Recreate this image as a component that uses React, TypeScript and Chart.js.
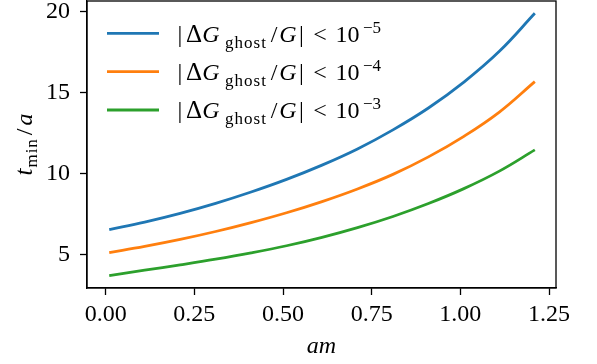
import { useEffect, useRef } from 'react';
import { Chart, registerables } from 'chart.js';

Chart.register(...registerables);

// Lattice spacing am and the minimum time t_min/a needed for each ghost tolerance
const amValues = [0.01, 0.11, 0.21, 0.31, 0.41, 0.51, 0.61, 0.71, 0.81, 0.91, 1.01, 1.11, 1.21];
const tMinTol5 = [6.53, 7.0, 7.54, 8.16, 8.86, 9.64, 10.52, 11.52, 12.7, 14.05, 15.65, 17.55, 19.9];
const tMinTol4 = [5.12, 5.5, 5.93, 6.42, 6.97, 7.58, 8.27, 9.05, 9.95, 11.03, 12.3, 13.8, 15.68];
const tMinTol3 = [3.7, 4.03, 4.36, 4.71, 5.1, 5.54, 6.06, 6.66, 7.35, 8.15, 9.07, 10.15, 11.46];
const toleranceExponents = ['\u22125', '\u22124', '\u22123'];
const seriesColors = ['#1f77b4', '#ff7f0e', '#2ca02c'];
const xTickValues = [0, 0.25, 0.5, 0.75, 1.0, 1.25];
const yTickValues = [5, 10, 15, 20];

const SERIF = '"Liberation Serif", "Times New Roman", serif';
const BASE = 24;

type Piece = {
  text: string;
  italic?: boolean;
  size?: number;
  dy?: number;
  cx?: number;
  gap?: number;
  spacing?: number;
};

const fontOf = (p: Piece) => `${p.italic ? 'italic ' : ''}${p.size ?? BASE}px ${SERIF}`;

// Pieces placed by their horizontal centre, relative to x0
function drawCentered(ctx: CanvasRenderingContext2D, x0: number, y: number, pieces: Piece[]) {
  ctx.textAlign = 'center';
  ctx.textBaseline = 'alphabetic';
  for (const p of pieces) {
    ctx.font = fontOf(p);
    (ctx as any).letterSpacing = `${p.spacing ?? 0}px`;
    ctx.fillText(p.text, x0 + (p.cx ?? 0), y + (p.dy ?? 0));
  }
  (ctx as any).letterSpacing = '0px';
}

// Pieces laid out one after another, centred as a whole on x = 0
function drawSequence(ctx: CanvasRenderingContext2D, pieces: Piece[]) {
  ctx.textAlign = 'left';
  ctx.textBaseline = 'alphabetic';
  const widths = pieces.map((p) => {
    ctx.font = fontOf(p);
    (ctx as any).letterSpacing = `${p.spacing ?? 0}px`;
    return ctx.measureText(p.text).width;
  });
  const total = pieces.reduce((s, p, i) => s + widths[i] + (p.gap ?? 0), 0);
  let x = -total / 2;
  pieces.forEach((p, i) => {
    x += p.gap ?? 0;
    ctx.font = fontOf(p);
    (ctx as any).letterSpacing = `${p.spacing ?? 0}px`;
    ctx.fillText(p.text, x, p.dy ?? 0);
    x += widths[i];
  });
  (ctx as any).letterSpacing = '0px';
}

const legendPieces = (exp: string): Piece[] => [
  { text: '|', cx: 3 },
  { text: '\u0394', size: 25, cx: 17 },
  { text: 'G', italic: true, cx: 34 },
  { text: 'ghost', size: 17, dy: 6, cx: 69, spacing: 1 },
  { text: '/', cx: 97 },
  { text: 'G', italic: true, cx: 111 },
  { text: '|', cx: 124.5 },
  { text: '<', cx: 143 },
  { text: '10', cx: 170.5 },
  { text: exp, size: 17, dy: -9, cx: 195 },
];

const annotations = {
  id: 'annotations',
  afterDatasetsDraw(chart: Chart) {
    const { ctx, chartArea } = chart;
    const { left, top, right, bottom } = chartArea;
    ctx.save();

    // axes frame
    ctx.strokeStyle = '#000';
    ctx.lineWidth = 1.3;
    ctx.strokeRect(left, top, right - left, bottom - top);

    // legend
    chart.data.datasets.forEach((ds, i) => {
      const ly = top + 32.3 + i * 38.35;
      ctx.strokeStyle = ds.borderColor as string;
      ctx.lineWidth = 2.8;
      ctx.beginPath();
      ctx.moveTo(left + 20, ly);
      ctx.lineTo(left + 72, ly);
      ctx.stroke();
      ctx.fillStyle = '#000';
      drawCentered(ctx, left + 90, ly + 8.4, legendPieces(toleranceExponents[i]));
    });

    // x axis title
    ctx.fillStyle = '#000';
    ctx.font = `italic ${BASE}px ${SERIF}`;
    ctx.textAlign = 'center';
    ctx.textBaseline = 'alphabetic';
    ctx.fillText('am', (left + right) / 2, 353);

    // y axis title
    ctx.translate(32, (top + bottom) / 2);
    ctx.rotate(-Math.PI / 2);
    drawSequence(ctx, [
      { text: 't', italic: true, size: 25 },
      { text: 'min', size: 17, dy: 5, gap: 1, spacing: 1 },
      { text: '/', gap: 3 },
      { text: 'a', italic: true, gap: 3 },
    ]);
    ctx.restore();
  },
};

export default function App() {
  const canvasRef = useRef<HTMLCanvasElement | null>(null);

  useEffect(() => {
    document.body.style.margin = '0';
    const canvas = canvasRef.current;
    if (!canvas) return;

    const series = [tMinTol5, tMinTol4, tMinTol3];
    const chart = new Chart(canvas, {
      type: 'line',
      data: {
        datasets: series.map((vals, i) => ({
          label: `|\u0394G_ghost/G| < 10^${toleranceExponents[i]}`,
          data: amValues.map((x, j) => ({ x, y: vals[j] })),
          borderColor: seriesColors[i],
          backgroundColor: seriesColors[i],
          borderWidth: 2.8,
          pointRadius: 0,
          tension: 0.4,
          borderCapStyle: 'butt' as const,
          fill: false,
        })),
      },
      options: {
        responsive: false,
        animation: false,
        events: [],
        layout: { padding: { left: 0, right: 41, top: 1, bottom: 0 } },
        plugins: {
          legend: { display: false },
          tooltip: { enabled: false },
        },
        scales: {
          x: {
            type: 'linear',
            min: -0.0527,
            max: 1.2697,
            afterBuildTicks: (s: any) => {
              s.ticks = xTickValues.map((v) => ({ value: v }));
            },
            afterFit: (s: any) => {
              s.height = 76;
              s.paddingLeft = 0;
              s.paddingRight = 0;
            },
            ticks: {
              color: '#000',
              font: { family: SERIF, size: BASE },
              padding: 5,
              maxRotation: 0,
              autoSkip: false,
              callback: (v: any) => Number(v).toFixed(2),
            },
            grid: {
              drawOnChartArea: false,
              tickLength: 7,
              tickWidth: 1.3,
              tickColor: '#000',
            },
            border: { color: '#000', width: 1.3 },
          },
          y: {
            type: 'linear',
            min: 2.93,
            max: 20.66,
            afterBuildTicks: (s: any) => {
              s.ticks = yTickValues.map((v) => ({ value: v }));
            },
            afterFit: (s: any) => {
              s.width = 87;
              s.paddingTop = 0;
              s.paddingBottom = 0;
            },
            ticks: {
              color: '#000',
              font: { family: SERIF, size: BASE },
              padding: 10,
              autoSkip: false,
              callback: (v: any) => String(v),
            },
            grid: {
              drawOnChartArea: false,
              tickLength: 7,
              tickWidth: 1.3,
              tickColor: '#000',
            },
            border: { color: '#000', width: 1.3 },
          },
        },
      },
      plugins: [annotations],
    });

    return () => chart.destroy();
  }, []);

  return (
    <div style={{ position: 'absolute', left: 0, top: 0, width: 597, height: 364 }}>
      <canvas ref={canvasRef} width={597} height={364} style={{ width: 597, height: 364 }} />
    </div>
  );
}
